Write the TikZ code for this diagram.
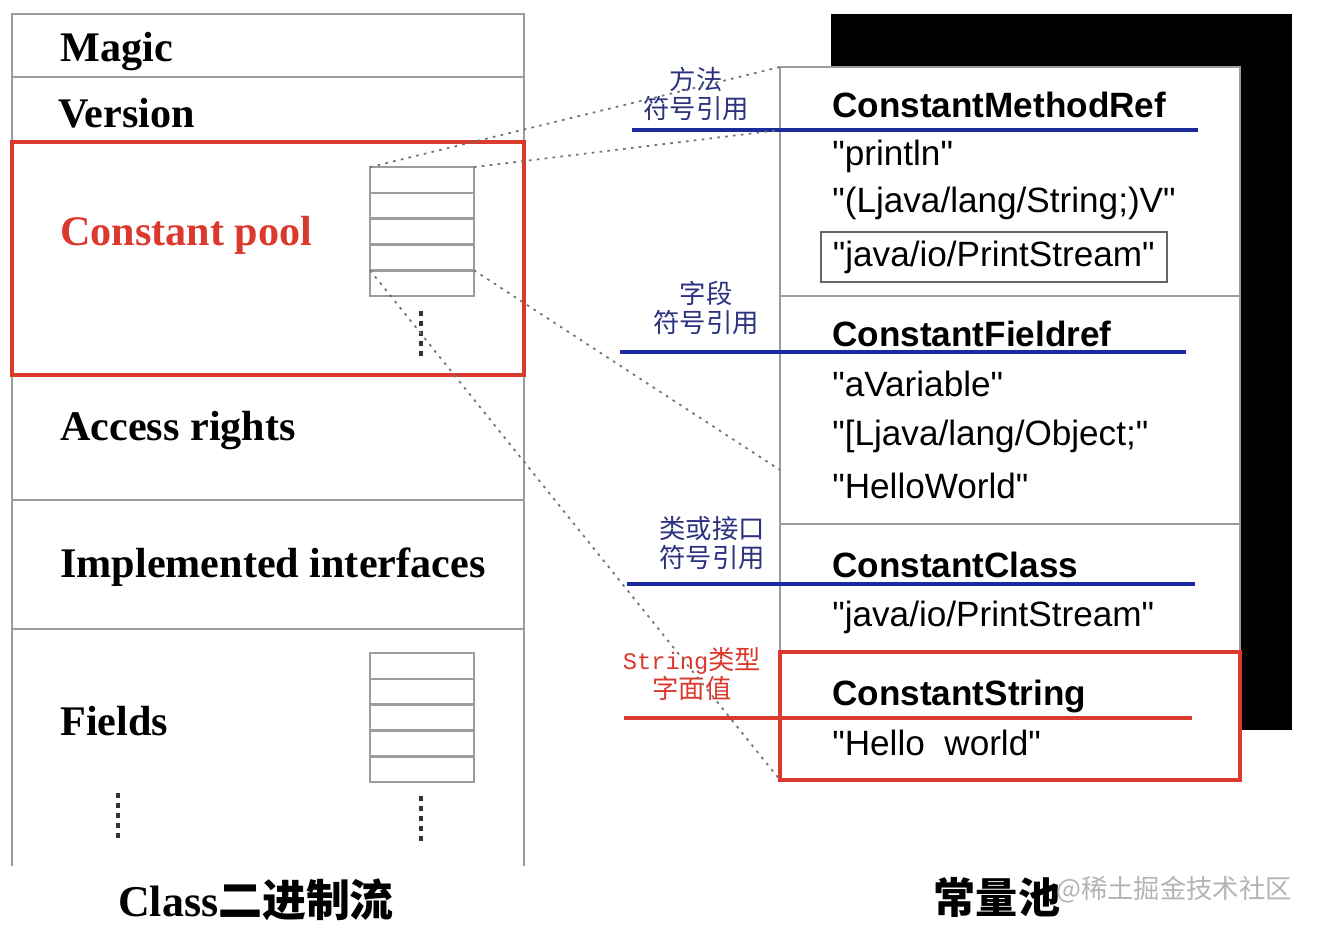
\documentclass[tikz,border=0pt]{standalone}
\usepackage{fontspec}
\setmainfont{Liberation Serif}
\setmonofont{Liberation Mono}
\newfontfamily\poolfont{Liberation Sans}
\newfontfamily\cjk{Noto Sans CJK SC}
\usetikzlibrary{positioning}
\definecolor{panelgray}{HTML}{9C9C9C}
\definecolor{poolred}{HTML}{DA3A2E}
\definecolor{refblue}{HTML}{1B2A9C}
\definecolor{notenavy}{HTML}{2C327E}
\definecolor{markgray}{HTML}{B4B4B4}

\begin{document}
\begin{tikzpicture}[
  x=0.02cm, y=-0.02cm,
  node distance=0pt,
  part/.style={anchor=base west,inner sep=0pt,font=\fontsize{24}{28}\selectfont\bfseries},
  entry/.style={anchor=base west,inner sep=0pt,font=\fontsize{20}{24}\selectfont\poolfont},
  kind/.style={anchor=base west,inner sep=0pt,font=\fontsize{20}{24}\selectfont\poolfont\bfseries},
  note/.style={align=center,text=notenavy,font=\fontsize{15}{16.5}\selectfont\cjk},
  rowbox/.style={draw=panelgray,line width=1.4pt,minimum width=2.08cm,minimum height=0.516cm,inner sep=0pt,outer sep=0pt},
  frame/.style={draw=panelgray,line width=1.6pt},
  redframe/.style={draw=poolred,line width=2.4pt},
  refline/.style={draw=refblue,line width=2.2pt},
  dotline/.style={draw=black!55,line width=1pt,dash pattern=on 1.5pt off 3pt},
  vdots/.style={draw=black!80,line width=2.6pt,dash pattern=on 2.6pt off 3.1pt}
]
\useasboundingbox (0,0) rectangle (1339,926);

% class file layout
\draw[frame] (12,866) -- (12,14) -- (524,14) -- (524,866);
\draw[frame] (12,77) -- (524,77);
\draw[frame] (12,500) -- (524,500);
\draw[frame] (12,629) -- (524,629);
\draw[redframe] (12,142) rectangle (524,375);

\node[part] (magic) at (60,62) {Magic};
\node[part] (version) at (58,128) {Version};
\node[part,text=poolred] (pooltxt) at (60,245) {Constant pool};
\node[part] (access) at (60,440) {Access rights};
\node[part] (ifaces) at (60,577) {Implemented interfaces};
\node[part] (fields) at (60,735) {Fields};

\node[rowbox] (pr1) at (422,180) {};
\node[rowbox,below=of pr1] (pr2) {};
\node[rowbox,below=of pr2] (pr3) {};
\node[rowbox,below=of pr3] (pr4) {};
\node[rowbox,below=of pr4] (pr5) {};
\draw[vdots] (421,311) -- (421,356);

\node[rowbox] (fr1) at (422,666) {};
\node[rowbox,below=of fr1] (fr2) {};
\node[rowbox,below=of fr2] (fr3) {};
\node[rowbox,below=of fr3] (fr4) {};
\node[rowbox,below=of fr4] (fr5) {};
\draw[vdots] (421,796) -- (421,841);
\draw[vdots] (118,793) -- (118,838);

% constant pool
\fill (831,14) rectangle (1292,730);
\node[frame,fill=white,minimum width=9.2cm,minimum height=14.26cm,anchor=north west,inner sep=0pt,outer sep=0pt] (cpool) at (780,67) {};
\draw[frame] (780,296) -- (1240,296);
\draw[frame] (780,524) -- (1240,524);
\node[redframe,minimum width=9.2cm,minimum height=2.56cm,anchor=north west,inner sep=0pt,outer sep=0pt] (strsec) at (780,652) {};

\draw[refline] (632,130) -- (1198,130);
\draw[refline] (620,352) -- (1186,352);
\draw[refline] (627,584) -- (1195,584);
\draw[redframe] (624,718) -- (1192,718);

\node[kind] (mref) at (832,117) {ConstantMethodRef};
\node[entry] (mname) at (832,166) {"println"};
\node[entry] (mdesc) at (832,213) {"(Ljava/lang/String;)V"};
\node[entry,anchor=west,draw=black!60,line width=1pt,inner xsep=0.24cm,minimum height=1cm] (mowner) at (820,257) {"java/io/PrintStream"};

\node[kind] (fref) at (832,346) {ConstantFieldref};
\node[entry] (fname) at (832,396) {"aVariable"};
\node[entry] (fdesc) at (832,445) {"[Ljava/lang/Object;"};
\node[entry] (fowner) at (832,498) {"HelloWorld"};

\node[kind] (cref) at (832,577) {ConstantClass};
\node[entry] (cname) at (832,626) {"java/io/PrintStream"};

\node[kind] (sref) at (832,705) {ConstantString};
\node[entry] (sval) at (832,755) {"Hello\ \ world"};

\node[note] (mnote) at (696,94) {方法\\符号引用};
\node[note] (fnote) at (706,308) {字段\\符号引用};
\node[note] (cnote) at (712,543) {类或接口\\符号引用};
\node[note,text=poolred] (snote) at (692,674) {{\ttfamily\fontsize{13.5}{16.5}\selectfont String}类型\\字面值};

% dotted links
\coordinate (mrefin) at (780,130);
\coordinate (frefin) at (780,470);
\draw[dotline] (pr1.north west) -- (cpool.north west);
\draw[dotline] (pr1.north east) -- (mrefin);
\draw[dotline] (pr5.north east) -- (frefin);
\draw[dotline] (pr5.north west) -- (strsec.south west);

% captions
\node[font=\fontsize{25}{30}\selectfont\bfseries] (cfile) at (256,900) {Class{\cjk 二进制流}};
\node[font=\fontsize{24}{28}\selectfont\cjk\bfseries] (cptitle) at (997,897) {常量池};
\node[anchor=west,text=markgray,font=\fontsize{15}{18}\selectfont\cjk] (mark) at (1050,890) {@稀土掘金技术社区};
\end{tikzpicture}
\end{document}
